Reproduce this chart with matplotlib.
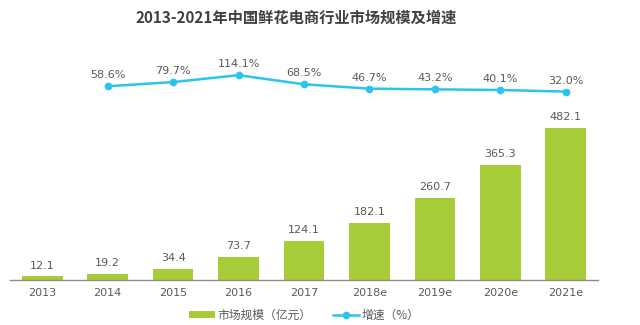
import matplotlib
matplotlib.use("Agg")
import matplotlib.pyplot as plt
import numpy as np

plt.rcParams['font.family'] = ['DejaVu Sans', 'Noto Sans CJK SC']

years = ["2013", "2014", "2015", "2016", "2017", "2018e", "2019e", "2020e", "2021e"]
market = [12.1, 19.2, 34.4, 73.7, 124.1, 182.1, 260.7, 365.3, 482.1]
growth_years = years[1:]
growth = [58.6, 79.7, 114.1, 68.5, 46.7, 43.2, 40.1, 32.0]

bar_color = "#A8CC38"
line_color = "#2BC4EE"
text_color = "#595959"

fig = plt.figure(figsize=(6.4, 3.25), dpi=100)
ax = fig.add_axes([0.015, 1 - 280 / 325, 0.92, 220 / 325])

x = np.arange(len(years))
ax.bar(x, market, width=0.62, color=bar_color, label="市场规模（亿元）", zorder=2)
for xi, v in zip(x, market):
    ax.text(xi, v + 18, f"{v:.1f}", ha="center", va="bottom", fontsize=8, color=text_color)

ax.set_xlim(-0.5, len(years) - 0.5)
ax.set_ylim(0, 698)
ax.set_xticks(x)
ax.set_xticklabels(years, fontsize=8, color=text_color)
ax.tick_params(axis="x", length=0, pad=6)
ax.set_yticks([])
for s in ["top", "right", "left"]:
    ax.spines[s].set_visible(False)
ax.spines["bottom"].set_color("#8c8c8c")
ax.spines["bottom"].set_linewidth(1)

ax2 = ax.twinx()
gx = x[1:]
ax2.plot(gx, growth, color=line_color, lw=1.8, marker="o", ms=4.5, label="增速（%）", zorder=3)
for xi, v in zip(gx, growth):
    ax2.text(xi, v + 30, f"{v:.1f}%", ha="center", va="bottom", fontsize=8, color=text_color)
ax2.set_ylim(-910, 190)
ax2.set_yticks([])
for s in ["top", "right", "left", "bottom"]:
    ax2.spines[s].set_visible(False)

fig.text(0.463, 0.945, "2013-2021年中国鲜花电商行业市场规模及增速", ha="center", va="center",
         fontsize=11, fontweight="bold", color="#404040",
         family=["Noto Sans CJK SC", "DejaVu Sans"])

h1, l1 = ax.get_legend_handles_labels()
h2, l2 = ax2.get_legend_handles_labels()
leg = fig.legend(h1 + h2, l1 + l2, loc="center", bbox_to_anchor=(0.475, 1 - 315 / 325), ncol=2,
                 frameon=False, fontsize=8.5, handlelength=2.2, handleheight=0.6,
                 columnspacing=1.8, handletextpad=0.2)
for t in leg.get_texts():
    t.set_color(text_color)
    t.set_family(["Noto Sans CJK SC", "DejaVu Sans"])

fig.savefig("out.png", dpi=100)
